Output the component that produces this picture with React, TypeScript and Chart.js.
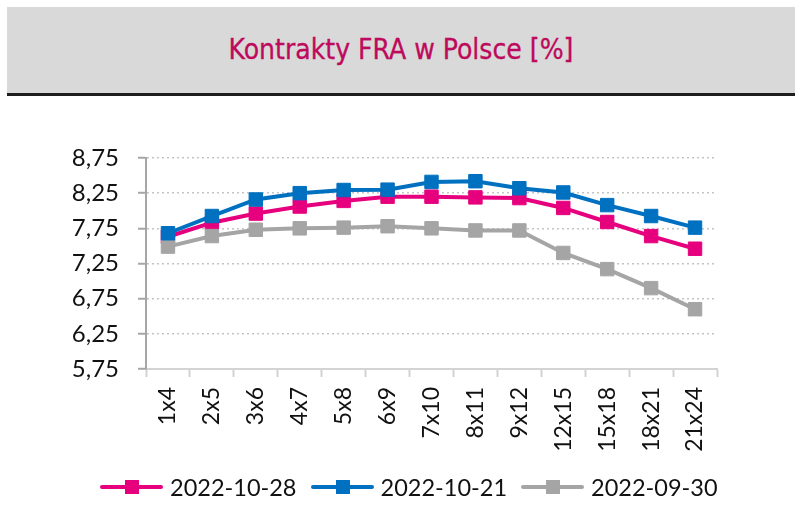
import React, { useEffect, useRef } from 'react';
import { Chart, registerables } from 'chart.js';

Chart.register(...registerables);

// FRA tenors
const categories = ['1x4', '2x5', '3x6', '4x7', '5x8', '6x9', '7x10', '8x11', '9x12', '12x15', '15x18', '18x21', '21x24'];

// FRA quotes [%] by fixing date
const fra20221028 = [7.63, 7.83, 7.96, 8.06, 8.14, 8.2, 8.2, 8.19, 8.18, 8.04, 7.84, 7.64, 7.46];
const fra20221021 = [7.68, 7.925, 8.16, 8.25, 8.295, 8.3, 8.41, 8.42, 8.32, 8.26, 8.08, 7.925, 7.76];
const fra20220930 = [7.49, 7.64, 7.73, 7.75, 7.76, 7.78, 7.75, 7.72, 7.72, 7.4, 7.17, 6.9, 6.6];

const seriesLabels = ['2022-10-28', '2022-10-21', '2022-09-30'];
const seriesColors = ['#E6007E', '#0070C0', '#A5A5A5'];
const seriesValues = [fra20221028, fra20221021, fra20220930];
// pink sits underneath the other two lines
const seriesOrder = [1, 0, 0];

const yTicks = [5.75, 6.25, 6.75, 7.25, 7.75, 8.25, 8.75];

const FONT = 'Lato, "Open Sans", sans-serif';

function LegendMarker({ color }: { color: string }) {
  return (
    <div style={{ position: 'relative', width: 63, height: 14, flex: '0 0 auto' }}>
      <div style={{ position: 'absolute', left: 0, top: 5, width: 63, height: 4, background: color, borderRadius: 2 }} />
      <div style={{ position: 'absolute', left: 25, top: 0, width: 14, height: 14, background: color }} />
    </div>
  );
}

export default function App() {
  const canvasRef = useRef<HTMLCanvasElement | null>(null);

  useEffect(() => {
    const canvas = canvasRef.current;
    if (!canvas) return;
    const chart = new Chart(canvas, {
      type: 'line',
      data: {
        labels: categories,
        datasets: seriesValues.map((values, i) => ({
          label: seriesLabels[i],
          data: values,
          borderColor: seriesColors[i],
          backgroundColor: seriesColors[i],
          borderWidth: 4,
          tension: 0,
          fill: false,
          pointStyle: 'rect',
          pointRadius: 9.5,
          pointBorderWidth: 1,
          pointBorderColor: seriesColors[i],
          pointBackgroundColor: seriesColors[i],
          order: seriesOrder[i],
        })),
      },
      options: {
        responsive: false,
        devicePixelRatio: 1,
        animation: false,
        layout: { padding: { left: 0, right: 83, top: 158, bottom: 43 } },
        plugins: {
          legend: { display: false },
          tooltip: { enabled: false },
          title: { display: false },
        },
        scales: {
          x: {
            type: 'category',
            offset: true,
            grid: {
              display: true,
              drawOnChartArea: false,
              drawTicks: true,
              offset: true,
              tickLength: 8,
              tickColor: '#D3D3D3',
              tickWidth: 2,
            },
            border: { display: true, color: '#D3D3D3', width: 2 },
            ticks: {
              autoSkip: false,
              minRotation: 90,
              maxRotation: 90,
              padding: 10,
              color: '#111',
              font: { family: FONT, size: 23 },
            },
            afterFit: (scale: any) => {
              scale.height = 95;
            },
          },
          y: {
            min: 5.75,
            max: 8.75,
            afterBuildTicks: (scale: any) => {
              scale.ticks = yTicks.map((v) => ({ value: v }));
            },
            grid: {
              color: '#C4C4C4',
              lineWidth: 1.5,
              drawTicks: true,
              tickLength: 8,
              tickColor: '#A6A6A6',
              tickWidth: 2,
              tickBorderDash: [],
            },
            border: { display: true, color: '#A6A6A6', width: 2, dash: [2, 3] },
            ticks: {
              padding: 19,
              color: '#111',
              font: { family: FONT, size: 24 },
              callback: (v: any) => Number(v).toFixed(2).replace('.', ','),
            },
            afterFit: (scale: any) => {
              scale.width = 146;
            },
          },
        },
      },
    } as any);
    return () => chart.destroy();
  }, []);

  return (
    <div style={{ position: 'absolute', left: 0, top: 0, width: 800, height: 507, background: '#fff', overflow: 'hidden' }}>
      <div
        style={{
          position: 'absolute',
          left: 7,
          top: 7,
          width: 788,
          height: 86,
          background: '#D9D9D9',
          borderBottom: '3px solid #1E1E1E',
          display: 'flex',
          alignItems: 'center',
          justifyContent: 'center',
        }}
      >
        <span
          style={{
            fontFamily: '"DejaVu Sans Condensed", "DejaVu Sans", sans-serif',
            fontStretch: 'condensed',
            fontSize: 28,
            color: '#BE0A5C',
            lineHeight: 1,
            WebkitTextStroke: '0.3px #BE0A5C',
          }}
        >
          Kontrakty FRA w Polsce [%]
        </span>
      </div>
      <canvas ref={canvasRef} width={800} height={507} style={{ position: 'absolute', left: 0, top: 0, width: 800, height: 507 }} />
      <div
        style={{
          position: 'absolute',
          left: 100,
          top: 472,
          height: 30,
          display: 'flex',
          alignItems: 'center',
          gap: 14,
          fontFamily: FONT,
          fontSize: 23.5,
          color: '#111',
          whiteSpace: 'nowrap',
        }}
      >
        {seriesLabels.map((label, i) => (
          <div key={label} style={{ display: 'flex', alignItems: 'center', gap: 7 }}>
            <LegendMarker color={seriesColors[i]} />
            <span>{label}</span>
          </div>
        ))}
      </div>
    </div>
  );
}
